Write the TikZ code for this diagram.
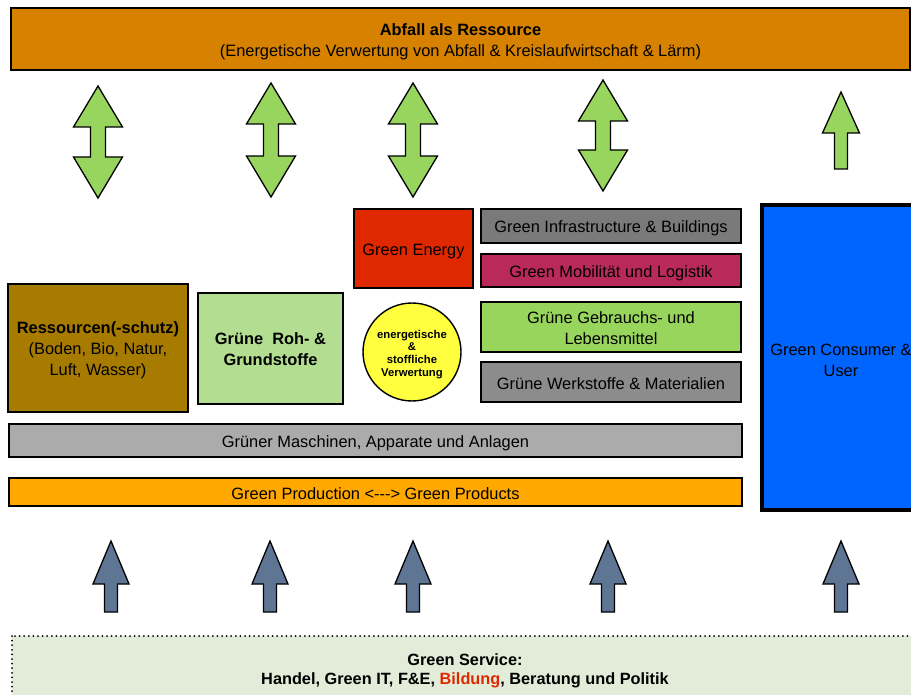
\documentclass[tikz,border=0pt]{standalone}
\usepackage{fontspec}
\setmainfont{Liberation Sans}
\newcommand{\lowtext}[1]{\raisebox{-2.8pt}[\height][\depth]{\begin{tabular}{@{}c@{}}#1\end{tabular}}}
\begin{document}
\begin{tikzpicture}[x=1pt,y=-1pt,
  box/.style={draw=black, line width=1.6pt, inner sep=0pt, align=center, font=\fontsize{16.4}{21}\selectfont},
  garrow/.style={draw=black, line width=1.3pt, fill=arrowgreen, line join=miter},
  barrow/.style={draw=black, line width=1.3pt, fill=arrowblue, line join=miter},
  pics/dblarrow/.style={code={
    \path[garrow] (0,0) -- (24.5,41) -- (7.5,41) -- (7.5,#1-41) -- (24.5,#1-41) -- (0,#1)
      -- (-24.5,#1-41) -- (-7.5,#1-41) -- (-7.5,41) -- (-24.5,41) -- cycle;}},
  pics/uparrowg/.style={code={
    \path[garrow] (0,0) -- (18.5,41) -- (6.5,41) -- (6.5,#1) -- (-6.5,#1) -- (-6.5,41) -- (-18.5,41) -- cycle;}},
  pics/uparrowb/.style={code={
    \path[barrow] (0,0) -- (18,43) -- (6.5,43) -- (6.5,#1) -- (-6.5,#1) -- (-6.5,43) -- (-18,43) -- cycle;}}
]
\definecolor{arrowgreen}{HTML}{98D55E}
\definecolor{arrowblue}{HTML}{5E7694}
\definecolor{cabfall}{HTML}{D68100}
\definecolor{cress}{HTML}{A67B00}
\definecolor{croh}{HTML}{B3DD91}
\definecolor{cenergy}{HTML}{E02800}
\definecolor{cinfra}{HTML}{7A7A7A}
\definecolor{cmob}{HTML}{B92A5A}
\definecolor{cgebr}{HTML}{98D55C}
\definecolor{cwerk}{HTML}{8C8C8C}
\definecolor{ccirc}{HTML}{FFFF40}
\definecolor{cmasch}{HTML}{ABABAB}
\definecolor{cprod}{HTML}{FFA800}
\definecolor{ccons}{HTML}{0064FF}
\definecolor{cserv}{HTML}{E2ECD9}
\definecolor{cred}{HTML}{E02800}

\useasboundingbox (0,0) rectangle (911,695);
\clip (0,0) rectangle (911,695);
\fill[white] (0,0) rectangle (911,695);

% top bar
\node[box, fill=cabfall, minimum width=899pt, minimum height=62pt] (abfall) at (460.5,39)
  {\lowtext{\textbf{Abfall als Ressource}\\(Energetische Verwertung von Abfall \& Kreislaufwirtschaft \& Lärm)}};

% green arrows
\pic at (98,86) {dblarrow=112};
\pic at (271,83) {dblarrow=114};
\pic at (413,83) {dblarrow=114};
\pic at (603,80) {dblarrow=111};
\pic at (841,92) {uparrowg=77};

% boxes
\node[box, fill=cenergy, minimum width=119pt, minimum height=79pt] (energy) at (413.5,248.5) {\lowtext{Green Energy}};
\node[box, fill=cinfra, minimum width=260pt, minimum height=34pt] (infra) at (611,226) {\lowtext{Green Infrastructure \& Buildings}};
\node[box, fill=cmob, minimum width=260pt, minimum height=33pt] (mob) at (611,270.5) {\lowtext{Green Mobilität und Logistik}};
\node[box, fill=cgebr, minimum width=260pt, minimum height=50pt] (gebr) at (611,327) {\lowtext{Grüne Gebrauchs- und\\Lebensmittel}};
\node[box, fill=cwerk, minimum width=260pt, minimum height=40pt] (werk) at (611,382) {\lowtext{Grüne Werkstoffe \& Materialien}};
\node[circle, draw=black, line width=1.4pt, fill=ccirc, minimum size=98pt, inner sep=0pt, align=center,
  font=\fontsize{11.3}{12.8}\selectfont\bfseries] (circ) at (412,352) {\lowtext{energetische\\\&\\stoffliche\\Verwertung}};
\node[box, fill=cress, minimum width=180pt, minimum height=128pt] (ress) at (98,348)
  {\lowtext{\textbf{Ressourcen(-schutz)}\\(Boden, Bio, Natur,\\Luft, Wasser)}};
\node[box, fill=croh, minimum width=145pt, minimum height=111pt] (roh) at (270.5,348.5)
  {\lowtext{\textbf{Grüne\ \ Roh- \&}\\\textbf{Grundstoffe}}};
\node[box, fill=cmasch, minimum width=733pt, minimum height=33pt] (masch) at (375.5,440.5) {\lowtext{Grüner Maschinen, Apparate und Anlagen}};
\node[box, fill=cprod, minimum width=733pt, minimum height=28pt] (prod) at (375.5,492) {\lowtext{Green Production <-{}-{}-> Green Products}};
\node[box, line width=3.5pt, fill=ccons, minimum width=158pt, minimum height=305pt] (cons) at (841,357.5) {};
\node[font=\fontsize{16.4}{21}\selectfont, align=center] (constext) at (841,360.5) {Green Consumer \&\\User};

% blue arrows
\pic at (111,541) {uparrowb=71};
\pic at (270,541) {uparrowb=71};
\pic at (413,541) {uparrowb=71};
\pic at (608,541) {uparrowb=71};
\pic at (841,541) {uparrowb=71};

% service
\path[fill=cserv, draw=black, line width=2pt, dash pattern=on 0pt off 4.6pt, line cap=round] (12,636) rectangle (930,720);
\node[font=\fontsize{16.3}{19}\selectfont\bfseries, align=center] (serv) at (465,671)
  {Green Service:\\Handel, Green IT, F\&E, \textcolor{cred}{Bildung}, Beratung und Politik};
\end{tikzpicture}
\end{document}
